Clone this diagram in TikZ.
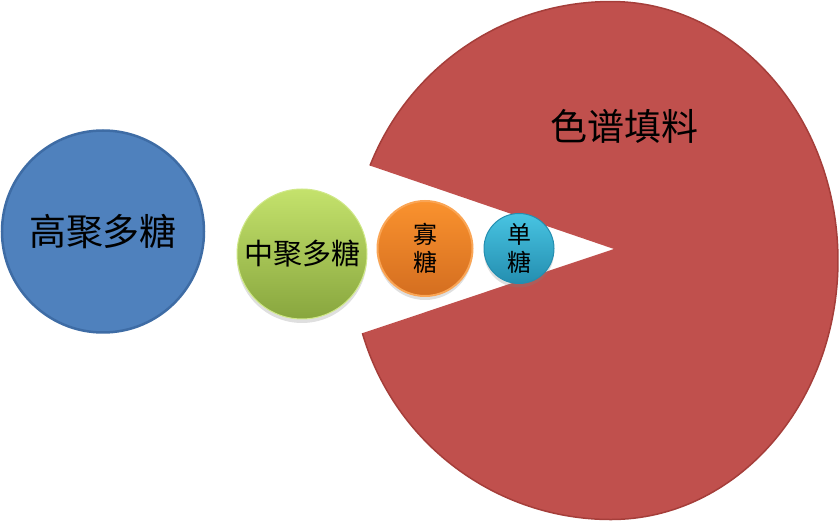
\documentclass[tikz,border=0pt]{standalone}
\usepackage{fontspec}
\newfontfamily\cjk{Noto Sans CJK SC}
\usepackage{tikz}
\usetikzlibrary{positioning, shadows}
\definecolor{fillred}{RGB}{192,80,77}
\definecolor{filledge}{RGB}{165,62,58}
\definecolor{highblue}{RGB}{79,129,189}
\definecolor{highedge}{RGB}{62,108,165}
\definecolor{midtop}{RGB}{196,226,108}
\definecolor{midbot}{RGB}{136,166,62}
\definecolor{oligtop}{RGB}{250,146,46}
\definecolor{oligbot}{RGB}{212,110,32}
\definecolor{oligedge}{RGB}{250,165,85}
\definecolor{monotop}{RGB}{72,196,226}
\definecolor{monobot}{RGB}{36,142,176}
\newcommand{\fs}[2]{\fontsize{#1}{#2}\selectfont}

\begin{document}
\begin{tikzpicture}[x=1pt, y=1pt, font=\cjk,
  ball/.style={circle, inner sep=0pt, align=center},
  soft/.style={drop shadow={opacity=0.25, shadow xshift=0pt, shadow yshift=-4pt}}]
  \useasboundingbox (0,0) rectangle (839,522);
  % stationary phase: pie with the wedge cut out
  \coordinate (tip) at (614,273);
  \coordinate (upper) at (370.0,356.4);
  \coordinate (lower) at (362.4,188.8);
  \fill[fillred] (tip) -- (upper)
    arc[start angle=158.5, end angle=90, radius=259]
    arc[start angle=90, end angle=-90, x radius=227, y radius=259]
    arc[start angle=270, end angle=196.3, radius=259] -- cycle;
  \draw[filledge, line width=1.5pt] (upper)
    arc[start angle=158.5, end angle=90, radius=259]
    arc[start angle=90, end angle=-90, x radius=227, y radius=259]
    arc[start angle=270, end angle=196.3, radius=259];
  \node[font=\cjk\fs{37}{44}] (fill) at (624,396) {色谱填料};

  % molecules, from large to small
  \node[ball, fill=highblue, draw=highedge, line width=2.5pt,
        minimum size=202pt, font=\cjk\fs{37}{44}] (high) at (103,290.5) {高聚多糖};
  \node[ball, soft, top color=midtop, bottom color=midbot,
        draw=midtop!80!white, line width=1pt,
        minimum size=130pt, font=\cjk\fs{29}{34}] (mid) at (302,268) {中聚多糖};
  \node[ball, soft, top color=oligtop, bottom color=oligbot,
        draw=oligedge, line width=2pt,
        minimum size=95pt, font=\cjk\fs{24}{28}] (olig) at (425,273.5) {寡\\糖};
  \node[ball, soft, top color=monotop, bottom color=monobot,
        draw=monobot, line width=1pt,
        minimum size=70pt, font=\cjk\fs{24}{28}] (mono) at (519,273.5) {单\\糖};
\end{tikzpicture}
\end{document}
